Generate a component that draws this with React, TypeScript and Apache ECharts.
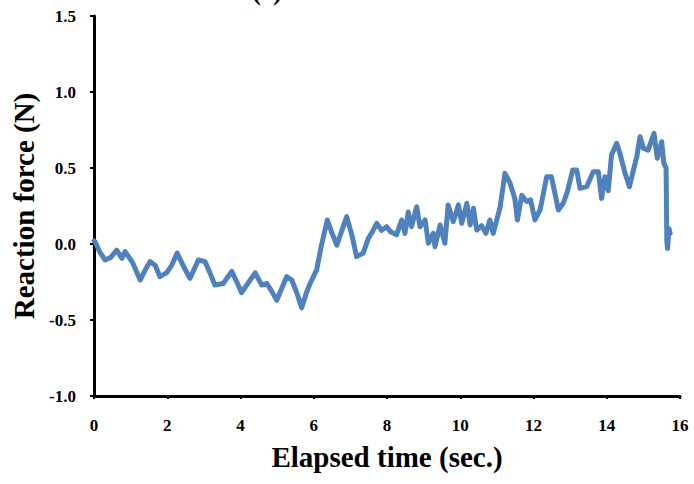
import React, { useEffect, useRef } from "react";
import * as echarts from "echarts";

const times = [0, 0.03, 0.15, 0.30, 0.45, 0.62, 0.76, 0.85, 1.05, 1.26, 1.40, 1.53, 1.67, 1.80, 1.98, 2.12, 2.27, 2.45, 2.62, 2.85, 3.03, 3.15, 3.30, 3.53, 3.76, 3.90, 4.03, 4.20, 4.40, 4.58, 4.72, 4.85, 4.99, 5.26, 5.40, 5.55, 5.67, 5.80, 5.90, 6.08, 6.20, 6.37, 6.50, 6.63, 6.90, 7.05, 7.17, 7.35, 7.49, 7.60, 7.72, 7.85, 7.99, 8.10, 8.26, 8.40, 8.49, 8.58, 8.67, 8.81, 8.90, 9.04, 9.13, 9.26, 9.31, 9.45, 9.58, 9.67, 9.81, 9.95, 10.04, 10.18, 10.27, 10.36, 10.45, 10.58, 10.70, 10.81, 10.90, 11.09, 11.22, 11.36, 11.49, 11.56, 11.68, 11.81, 11.92, 12.04, 12.18, 12.36, 12.49, 12.68, 12.81, 12.92, 13.07, 13.18, 13.27, 13.45, 13.55, 13.63, 13.77, 13.86, 13.95, 14.04, 14.13, 14.27, 14.36, 14.50, 14.62, 14.70, 14.82, 14.91, 15.00, 15.13, 15.29, 15.38, 15.50, 15.56, 15.62, 15.64, 15.66, 15.70, 15.73];

const forces = [0.02, 0.015, -0.05, -0.105, -0.09, -0.04, -0.094, -0.05, -0.12, -0.237, -0.17, -0.116, -0.14, -0.215, -0.19, -0.14, -0.06, -0.15, -0.226, -0.105, -0.116, -0.18, -0.27, -0.26, -0.18, -0.25, -0.32, -0.26, -0.19, -0.27, -0.26, -0.31, -0.37, -0.215, -0.237, -0.33, -0.42, -0.32, -0.26, -0.17, -0.02, 0.158, 0.07, -0.007, 0.18, 0.05, -0.083, -0.06, 0.037, 0.08, 0.136, 0.09, 0.114, 0.08, 0.06, 0.158, 0.07, 0.21, 0.114, 0.245, 0.114, 0.158, 0.005, 0.07, -0.018, 0.125, 0.005, 0.257, 0.147, 0.257, 0.136, 0.268, 0.125, 0.235, 0.092, 0.12, 0.07, 0.158, 0.07, 0.245, 0.465, 0.40, 0.30, 0.158, 0.32, 0.28, 0.29, 0.158, 0.224, 0.443, 0.443, 0.224, 0.268, 0.34, 0.487, 0.487, 0.366, 0.377, 0.43, 0.476, 0.476, 0.30, 0.443, 0.35, 0.585, 0.662, 0.597, 0.465, 0.377, 0.46, 0.574, 0.706, 0.63, 0.618, 0.728, 0.564, 0.673, 0.53, 0.50, 0.02, -0.03, 0.10, 0.07];

const xTitle = "Elapsed time (sec.)";
const yTitle = "Reaction force (N)";
const panelLabel = "(a)";

const FONT = '"Liberation Serif", "Times New Roman", serif';

export default function App() {
  const ref = useRef<HTMLDivElement>(null);
  useEffect(() => {
    document.body.style.margin = "0";
    if (!ref.current) return;
    const chart = echarts.init(ref.current, undefined, { renderer: "svg" });
    const data = times.map((t, i) => [t, forces[i]]);
    chart.setOption({
      animation: false,
      backgroundColor: "#ffffff",
      grid: { left: 94, right: 14, top: 16, bottom: 88 },
      xAxis: {
        type: "value",
        min: 0,
        max: 16,
        interval: 2,
        name: xTitle,
        nameLocation: "middle",
        nameGap: 46,
        nameTextStyle: { fontFamily: FONT, fontWeight: "bold", fontSize: 29, color: "#000" },
        axisLine: { onZero: false, lineStyle: { color: "#000", width: 3 } },
        axisTick: { show: true, inside: false, length: 3, lineStyle: { color: "#000", width: 2 } },
        axisLabel: { margin: 21, fontFamily: FONT, fontWeight: "bold", fontSize: 17, color: "#000" },
        splitLine: { show: false },
      },
      yAxis: {
        type: "value",
        min: -1,
        max: 1.5,
        interval: 0.5,
        name: yTitle,
        nameLocation: "middle",
        nameGap: 54,
        nameTextStyle: { fontFamily: FONT, fontWeight: "bold", fontSize: 29, color: "#000" },
        axisLine: { show: true, lineStyle: { color: "#000", width: 3 } },
        axisTick: { show: true, inside: false, length: 4, lineStyle: { color: "#000", width: 2 } },
        axisLabel: {
          margin: 18,
          fontFamily: FONT,
          fontWeight: "bold",
          fontSize: 17,
          color: "#000",
          formatter: (v: number) => v.toFixed(1),
        },
        splitLine: { show: false },
      },
      graphic: [
        {
          type: "text",
          x: 267,
          y: 4,
          style: {
            text: panelLabel,
            textAlign: "center",
            textVerticalAlign: "bottom",
            font: 'bold 25px "Liberation Serif"',
            fill: "#000",
          },
        },
      ],
      series: [
        {
          type: "line",
          data,
          showSymbol: false,
          smooth: false,
          lineStyle: { color: "#4F81BD", width: 5, join: "round", cap: "round" },
          itemStyle: { color: "#4F81BD" },
        },
      ],
    });
    return () => chart.dispose();
  }, []);
  return <div ref={ref} style={{ width: 694, height: 484 }} />;
}
